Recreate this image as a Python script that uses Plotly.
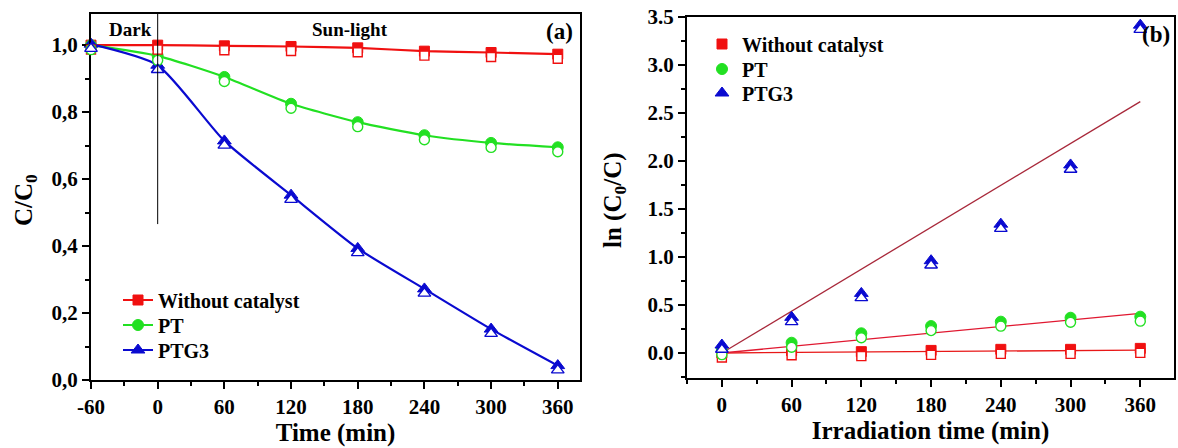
import plotly.graph_objects as go

# ---------------- data ----------------
time_a = [-60, 0, 60, 120, 180, 240, 300, 360]
no_cat_a = [1.0, 1.0, 0.998, 0.996, 0.992, 0.982, 0.978, 0.973]
pt_a = [1.0, 0.968, 0.905, 0.825, 0.77, 0.731, 0.708, 0.695]
ptg3_a = [1.003, 0.94, 0.714, 0.552, 0.393, 0.272, 0.152, 0.043]

time_b = [0, 60, 120, 180, 240, 300, 360]
no_cat_b = [0.0, 0.024, 0.014, 0.027, 0.038, 0.038, 0.048]
pt_b = [0.03, 0.107, 0.205, 0.28, 0.326, 0.367, 0.378]
ptg3_b = [0.083, 0.371, 0.62, 0.96, 1.34, 1.956, 3.41]

fit_t = [0, 360]
fit_no_cat = [0.0, 0.03]
fit_pt = [0.0, 0.413]
fit_ptg3 = [0.0, 2.615]

xticks_a = [-60, 0, 60, 120, 180, 240, 300, 360]
xtext_a = ["-60", "0", "60", "120", "180", "240", "300", "360"]
yticks_a = [0.0, 0.2, 0.4, 0.6, 0.8, 1.0]
ytext_a = ["0,0", "0,2", "0,4", "0,6", "0,8", "1,0"]
xticks_b = [0, 60, 120, 180, 240, 300, 360]
yticks_b = [0.0, 0.5, 1.0, 1.5, 2.0, 2.5, 3.0, 3.5]
ytext_b = ["0.0", "0.5", "1.0", "1.5", "2.0", "2.5", "3.0", "3.5"]

names = ["Without catalyst", "PT", "PTG3"]
colors = ["#f01010", "#22e022", "#0a0ad0"]
symbols = ["square", "circle", "triangle-up"]
sizes = [10, 11, 12]
fit_colors = ["#e81818", "#e01830", "#a8283a"]

W, H = 1178, 448
FONT = "Liberation Serif, Times New Roman, serif"
SHIFT = 4.5  # px, open half of the half-filled markers


def px_x(a, b):
    return [a / W, b / W]


def px_y(top, bottom, shift=0.0):
    return [1 - (bottom + shift) / H, 1 - (top + shift) / H]


fig = go.Figure()

leg_a = ["legend", "legend2", "legend3"]
leg_b = ["legend4", "legend5", "legend6"]

# ---------- panel (a) ----------
series_a = [no_cat_a, pt_a, ptg3_a]
for i, ys in enumerate(series_a):
    fig.add_trace(go.Scatter(
        x=time_a, y=ys, mode="lines+markers", name=names[i],
        line=dict(color=colors[i], width=2.2, shape="spline", smoothing=0.6),
        marker=dict(symbol=symbols[i], size=sizes[i], color=colors[i],
                    line=dict(color=colors[i], width=1)),
        xaxis="x", yaxis="y", legend=leg_a[i], cliponaxis=False))
for i, ys in enumerate(series_a):
    fig.add_trace(go.Scatter(
        x=time_a, y=ys, mode="markers", showlegend=False,
        marker=dict(symbol=symbols[i], size=sizes[i] - 1, color="white",
                    line=dict(color=colors[i], width=1.4)),
        xaxis="x3", yaxis="y3", cliponaxis=False, hoverinfo="skip"))

# ---------- panel (b) ----------
fits = [fit_no_cat, fit_pt, fit_ptg3]
for i, ys in enumerate(fits):
    fig.add_trace(go.Scatter(
        x=fit_t, y=ys, mode="lines", showlegend=False,
        line=dict(color=fit_colors[i], width=1.3),
        xaxis="x2", yaxis="y2", hoverinfo="skip"))
series_b = [no_cat_b, pt_b, ptg3_b]
for i, ys in enumerate(series_b):
    fig.add_trace(go.Scatter(
        x=time_b, y=ys, mode="markers", name=names[i],
        marker=dict(symbol=symbols[i], size=sizes[i], color=colors[i],
                    line=dict(color=colors[i], width=1)),
        xaxis="x2", yaxis="y2", legend=leg_b[i], cliponaxis=False))
for i, ys in enumerate(series_b):
    fig.add_trace(go.Scatter(
        x=time_b, y=ys, mode="markers", showlegend=False,
        marker=dict(symbol=symbols[i], size=sizes[i] - 1, color="white",
                    line=dict(color=colors[i], width=1.4)),
        xaxis="x4", yaxis="y4", cliponaxis=False, hoverinfo="skip"))

tickfont = dict(family=FONT, size=21, color="black", weight="bold")
titlefont = dict(family=FONT, size=25, color="black", weight="bold")

common = dict(showline=True, linecolor="black", linewidth=2, mirror=True,
              ticks="outside", ticklen=7, tickwidth=2, tickcolor="black",
              showgrid=False, zeroline=False, automargin=False,
              tickfont=tickfont, fixedrange=True)
minor_style = dict(ticks="outside", ticklen=4, tickwidth=2, tickcolor="black")

xa_dom = px_x(91, 580)
ya_dom = px_y(14, 380)
xb_dom = px_x(687, 1174)
yb_dom = px_y(16.5, 378)
xa_rng = [-60, 380]
ya_rng = [0, 1.093]
xb_rng = [-30, 389]
yb_rng = [-0.26, 3.5]

legfont = dict(family=FONT, size=20, color="black", weight="bold")


def leg(xpx, ypx):
    return dict(x=xpx / W, y=1 - ypx / H, xanchor="left", yanchor="middle",
                bgcolor="rgba(0,0,0,0)", font=legfont, tracegroupgap=0,
                borderwidth=0)


fig.update_layout(
    width=W, height=H, margin=dict(l=0, r=0, t=0, b=0),
    paper_bgcolor="white", plot_bgcolor="rgba(0,0,0,0)",
    font=dict(family=FONT, color="black"),
    xaxis=dict(domain=xa_dom, range=xa_rng, anchor="y", tickvals=xticks_a, ticktext=xtext_a,
               minor=dict(dtick=30, tick0=-60, **minor_style),
               title=dict(text="Time (min)", font=titlefont, standoff=4), **common),
    yaxis=dict(domain=ya_dom, range=ya_rng, anchor="x", tickvals=yticks_a, ticktext=ytext_a,
               minor=dict(dtick=0.1, tick0=0, **minor_style), **common),
    xaxis2=dict(domain=xb_dom, range=xb_rng, anchor="y2", tickvals=xticks_b,
                minor=dict(dtick=30, tick0=0, **minor_style),
                title=dict(text="Irradiation time (min)", font=titlefont, standoff=4), **common),
    yaxis2=dict(domain=yb_dom, range=yb_rng, anchor="x2", tickvals=yticks_b, ticktext=ytext_b,
                minor=dict(dtick=0.25, tick0=0, **minor_style), **common),
    xaxis3=dict(domain=xa_dom, range=xa_rng, anchor="y3", visible=False, fixedrange=True),
    yaxis3=dict(domain=px_y(14, 380, SHIFT), range=ya_rng, anchor="x3", visible=False, fixedrange=True),
    xaxis4=dict(domain=xb_dom, range=xb_rng, anchor="y4", visible=False, fixedrange=True),
    yaxis4=dict(domain=px_y(16.5, 378, SHIFT), range=yb_rng, anchor="x4", visible=False, fixedrange=True),
    legend=leg(118, 300),
    legend2=leg(118, 325),
    legend3=leg(118, 350),
    legend4=leg(702, 44),
    legend5=leg(702, 69),
    legend6=leg(702, 93),
    showlegend=True,
)

# y-axis titles placed as rotated annotations
fig.add_annotation(text="C/C<sub>0</sub>", xref="paper", yref="paper", x=25 / W, y=1 - 200 / H,
                   textangle=-90, xanchor="center", yanchor="middle", showarrow=False, font=titlefont)
fig.add_annotation(text="ln (C<sub>0</sub>/C)", xref="paper", yref="paper", x=614 / W, y=1 - 200 / H,
                   textangle=-90, xanchor="center", yanchor="middle", showarrow=False, font=titlefont)

# vertical separator dark / sun-light
fig.add_shape(type="line", xref="x", yref="y domain", x0=0, x1=0, y0=0.426, y1=1,
              line=dict(color="black", width=1))

ann_font = dict(family=FONT, size=19, color="black", weight="bold")
big_font = dict(family=FONT, size=23, color="black", weight="bold")
fig.add_annotation(text="Dark", xref="x domain", yref="y domain", x=0.08, y=0.958,
                   xanchor="center", yanchor="middle", showarrow=False, font=ann_font)
fig.add_annotation(text="Sun-light", xref="x domain", yref="y domain", x=0.53, y=0.958,
                   xanchor="center", yanchor="middle", showarrow=False, font=ann_font)
fig.add_annotation(text="(a)", xref="x domain", yref="y domain", x=0.99, y=0.952,
                   xanchor="right", yanchor="middle", showarrow=False, font=big_font)
fig.add_annotation(text="(b)", xref="x2 domain", yref="y2 domain", x=0.995, y=0.95,
                   xanchor="right", yanchor="middle", showarrow=False, font=big_font)

fig.write_html("out.html")
